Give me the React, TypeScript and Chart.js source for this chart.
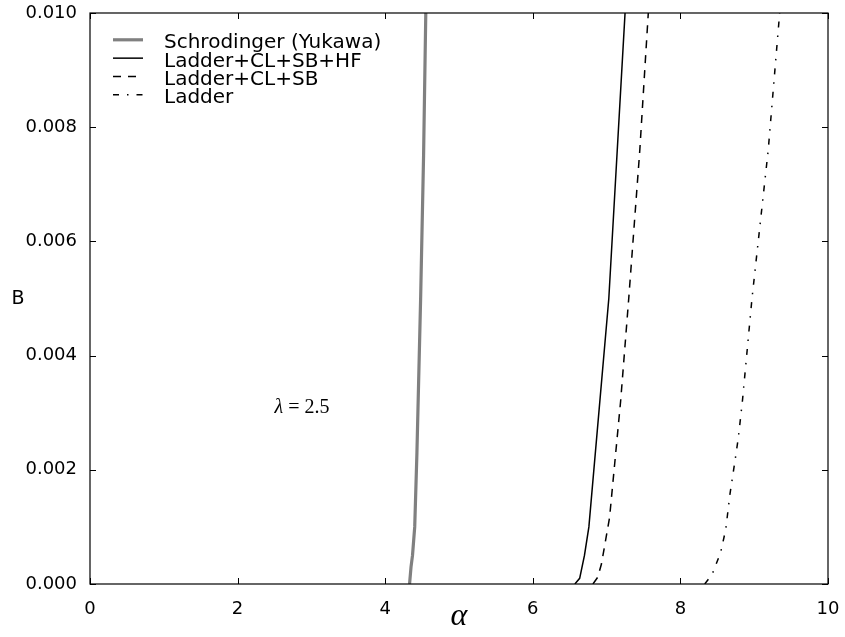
import React, { useEffect, useRef } from "react";
import { Chart, registerables } from "chart.js";
Chart.register(...registerables);

// ---- data ----
const xTickValues = [0, 2, 4, 6, 8, 10];
const yTickValues = [0, 0.002, 0.004, 0.006, 0.008, 0.01];

const schrodingerAlpha = [4.33, 4.35, 4.37, 4.4, 4.43, 4.48, 4.52, 4.55];
const schrodingerB = [0, 0.0003, 0.0005, 0.001, 0.0023, 0.005, 0.0075, 0.01];

const fullAlpha = [6.57, 6.635, 6.7, 6.76, 7.03, 7.25];
const fullB = [0, 0.0001, 0.0005, 0.001, 0.005, 0.01];

const clsbAlpha = [6.815, 6.88, 6.93, 7.04, 7.19, 7.3, 7.45, 7.565];
const clsbB = [0, 0.00012, 0.00035, 0.00116, 0.0032, 0.005, 0.0076, 0.01];

const ladderAlpha = [8.33, 8.43, 8.545, 8.615, 8.67, 8.74, 8.785, 8.84, 8.97, 9.19, 9.345];
const ladderB = [0, 0.00017, 0.00055, 0.00096, 0.00156, 0.00216, 0.00256, 0.0032, 0.005, 0.0076, 0.01];

const seriesNames = ["Schrodinger (Yukawa)", "Ladder+CL+SB+HF", "Ladder+CL+SB", "Ladder"];
const annotationText = { symbol: "λ", rest: " = 2.5", alpha: 2.5, b: 0.003 };

const pts = (xs: number[], ys: number[]) => xs.map((v, i) => ({ x: v, y: ys[i] }));

const styles = [
  { color: "#808080", width: 3.2, dash: [] as number[] },
  { color: "#000000", width: 1.5, dash: [] as number[] },
  { color: "#000000", width: 1.5, dash: [8, 7] },
  { color: "#000000", width: 1.5, dash: [6, 8, 1.5, 8] },
];

const overlay = {
  id: "overlay",
  afterDraw(chart: any) {
    const { ctx, chartArea: a, scales } = chart;
    const xs = scales.x;
    const ys = scales.y;
    ctx.save();
    ctx.strokeStyle = "#000";
    ctx.lineWidth = 1.2;
    ctx.setLineDash([]);
    ctx.strokeRect(a.left, a.top, a.right - a.left, a.bottom - a.top);
    const tl = 6;
    ctx.lineWidth = 1;
    xTickValues.forEach((v) => {
      const px = Math.round(xs.getPixelForValue(v)) + 0.5;
      ctx.beginPath();
      ctx.moveTo(px, a.bottom);
      ctx.lineTo(px, a.bottom - tl);
      ctx.moveTo(px, a.top);
      ctx.lineTo(px, a.top + tl);
      ctx.stroke();
    });
    yTickValues.forEach((v) => {
      const py = Math.round(ys.getPixelForValue(v)) + 0.5;
      ctx.beginPath();
      ctx.moveTo(a.left, py);
      ctx.lineTo(a.left + tl, py);
      ctx.moveTo(a.right, py);
      ctx.lineTo(a.right - tl, py);
      ctx.stroke();
    });

    // legend
    ctx.font = "20px 'DejaVu Sans'";
    ctx.textBaseline = "alphabetic";
    ctx.textAlign = "left";
    ctx.fillStyle = "#000";
    seriesNames.forEach((name, i) => {
      const base = 48.3 + 18.35 * i;
      const s = styles[i];
      ctx.strokeStyle = s.color;
      ctx.lineWidth = s.width;
      ctx.setLineDash(s.dash);
      ctx.beginPath();
      ctx.moveTo(113, base - 8.5);
      ctx.lineTo(143, base - 8.5);
      ctx.stroke();
      ctx.setLineDash([]);
      ctx.fillText(name, 164, base);
    });

    // annotation
    const ax = xs.getPixelForValue(annotationText.alpha);
    const ay = ys.getPixelForValue(annotationText.b);
    ctx.textBaseline = "alphabetic";
    ctx.font = "italic 20px 'Liberation Serif'";
    ctx.fillText(annotationText.symbol, ax, ay);
    const w = ctx.measureText(annotationText.symbol).width;
    ctx.font = "20px 'Liberation Serif'";
    ctx.fillText(annotationText.rest, ax + w, ay);

    // axis titles
    ctx.font = "19px 'DejaVu Sans'";
    ctx.textAlign = "center";
    ctx.textBaseline = "middle";
    ctx.fillText("B", 18, 299);
    ctx.font = "italic 32px 'Liberation Serif'";
    ctx.fillText("α", (a.left + a.right) / 2, 617);
    ctx.restore();
  },
};

const zeroPad = (s: any) => {
  s.paddingTop = 0;
  s.paddingBottom = 0;
  s.paddingLeft = 0;
  s.paddingRight = 0;
};

export default function App() {
  const ref = useRef<HTMLCanvasElement>(null);
  useEffect(() => {
    const cfg: any = {
      type: "line",
      data: {
        datasets: [
          pts(schrodingerAlpha, schrodingerB),
          pts(fullAlpha, fullB),
          pts(clsbAlpha, clsbB),
          pts(ladderAlpha, ladderB),
        ].map((d, i) => ({
          label: seriesNames[i],
          data: d,
          borderColor: styles[i].color,
          borderWidth: styles[i].width,
          borderDash: styles[i].dash,
          pointRadius: 0,
          tension: 0,
          fill: false,
        })),
      },
      options: {
        animation: false,
        responsive: false,
        layout: { padding: { top: 13, right: 17, left: 0, bottom: 0 } },
        plugins: { legend: { display: false }, tooltip: { enabled: false } },
        scales: {
          x: {
            type: "linear",
            min: 0,
            max: 10,
            afterBuildTicks: (s: any) => {
              s.ticks = xTickValues.map((v) => ({ value: v }));
            },
            afterFit: (s: any) => {
              s.height = 53;
              zeroPad(s);
            },
            grid: { display: false },
            border: { display: false },
            ticks: {
              padding: 7,
              color: "#000",
              font: { family: "'DejaVu Sans'", size: 18 },
              maxRotation: 0,
              callback: (v: any) => String(v),
            },
          },
          y: {
            type: "linear",
            min: 0,
            max: 0.01,
            afterBuildTicks: (s: any) => {
              s.ticks = yTickValues.map((v) => ({ value: v }));
            },
            afterFit: (s: any) => {
              s.width = 90;
              zeroPad(s);
            },
            grid: { display: false },
            border: { display: false },
            ticks: {
              padding: 5,
              color: "#000",
              font: { family: "'DejaVu Sans'", size: 18 },
              callback: (v: any) => Number(v).toFixed(3),
            },
          },
        },
      },
      plugins: [overlay],
    };
    const chart = new Chart(ref.current as HTMLCanvasElement, cfg);
    return () => chart.destroy();
  }, []);
  return (
    <div style={{ position: "absolute", left: 0, top: 0, width: 845, height: 637, background: "#fff" }}>
      <canvas ref={ref} width={845} height={637} style={{ display: "block" }} />
    </div>
  );
}
